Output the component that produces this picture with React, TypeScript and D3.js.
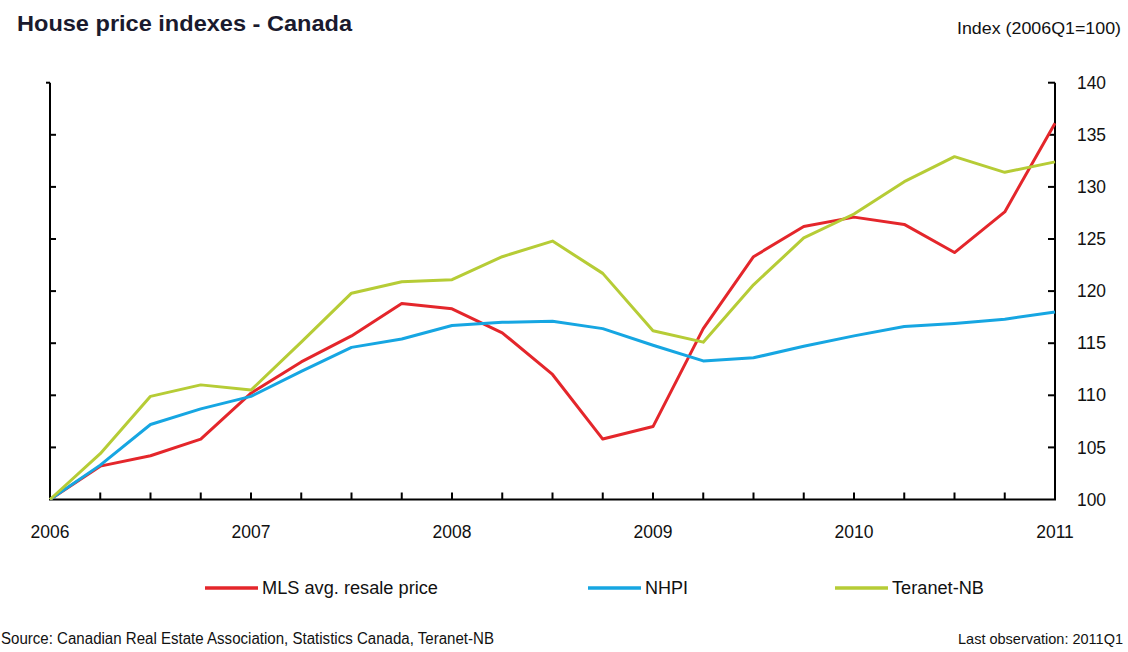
import React from 'react';
import * as d3 from 'd3';

// quarterly, 2006Q1 .. 2011Q1
const quarters = d3.range(0, 21);
const yearLabels = ['2006', '2007', '2008', '2009', '2010', '2011'];
const yTicks = [100, 105, 110, 115, 120, 125, 130, 135, 140];

const mls = [100, 103.2, 104.2, 105.8, 110.2, 113.2, 115.7, 118.8, 118.3, 116.0, 112.0,
    105.8, 107.0, 116.4, 123.3, 126.2, 127.1, 126.4, 123.7, 127.6, 136.1];
const nhpi = [100, 103.3, 107.2, 108.7, 109.9, 112.3, 114.6, 115.4, 116.7, 117.0, 117.1,
    116.4, 114.8, 113.3, 113.6, 114.7, 115.7, 116.6, 116.9, 117.3, 118.0];
const teranet = [100, 104.4, 109.9, 111.0, 110.5, 115.1, 119.8, 120.9, 121.1, 123.3, 124.8,
    121.7, 116.2, 115.1, 120.6, 125.1, 127.4, 130.5, 132.9, 131.4, 132.4];

const seriesNames = ['MLS avg. resale price', 'NHPI', 'Teranet-NB'];
const seriesColors = ['#e4262b', '#16a6e2', '#b6cc36'];
const seriesData = [mls, nhpi, teranet];

const font = '"Liberation Sans", Arial, sans-serif';

export default function App() {
    const width = 1128, height = 652;
    const left = 50, right = 1055, top = 82.7, bottom = 499.5;

    const x = d3.scaleLinear().domain([0, 20]).range([left, right]);
    const y = d3.scaleLinear().domain([100, 140]).range([bottom, top]);

    const line = d3.line<number>()
        .x((d, i) => x(i))
        .y(d => y(d));

    const legendX = [205, 588, 835];
    const legendTextLen = [176, 43, 92];

    return (
        <svg width={width} height={height}
            style={{position: 'absolute', left: 0, top: 0, background: '#fff'}}
            fontFamily={font}>
            <text x={17} y={31} fontSize={22.5} fontWeight="bold" fill="#1a1a2e"
                textLength={335} lengthAdjust="spacingAndGlyphs">House price indexes - Canada</text>
            <text x={1121} y={34} fontSize={17} textAnchor="end" fill="#111"
                textLength={164} lengthAdjust="spacingAndGlyphs">Index (2006Q1=100)</text>

            {/* axes */}
            <g stroke="#000" strokeWidth={2} fill="none">
                <path d={`M${left},${top}V${bottom}H${right}V${top}`} />
                <path d={`M${left},${top}h-4`} />
                <path d={`M${right},${top}h-7`} />
                {yTicks.slice(1, -1).map(t => (
                    <g key={t}>
                        <line x1={left} x2={left + 6} y1={y(t)} y2={y(t)} />
                        <line x1={right} x2={right - 7} y1={y(t)} y2={y(t)} />
                    </g>
                ))}
                {quarters.slice(1, -1).map(q => (
                    <line key={q} x1={x(q)} x2={x(q)} y1={bottom} y2={bottom - 7} />
                ))}
            </g>

            {yTicks.map(t => (
                <text key={t} x={1077} y={y(t)} dy="0.35em" fontSize={17.5} fill="#111"
                    textLength={29} lengthAdjust="spacingAndGlyphs">{t}</text>
            ))}
            {yearLabels.map((lab, i) => (
                <text key={lab} x={x(i * 4)} y={538} fontSize={17.5} textAnchor="middle" fill="#111">{lab}</text>
            ))}

            {seriesData.map((s, i) => (
                <path key={seriesNames[i]} d={line(s) || ''} fill="none"
                    stroke={seriesColors[i]} strokeWidth={3} strokeLinejoin="round" />
            ))}

            {/* legend */}
            {seriesNames.map((name, i) => (
                <g key={name} transform={`translate(${legendX[i]},588)`}>
                    <line x1={0} x2={53} y1={0} y2={0} stroke={seriesColors[i]} strokeWidth={3.5} />
                    <text x={57} y={6} fontSize={17.5} fill="#111"
                        textLength={legendTextLen[i]} lengthAdjust="spacingAndGlyphs">{name}</text>
                </g>
            ))}

            <text x={1} y={644} fontSize={16} fill="#111"
                textLength={493} lengthAdjust="spacingAndGlyphs">Source: Canadian Real Estate Association, Statistics Canada, Teranet-NB</text>
            <text x={1123} y={644} fontSize={14.5} textAnchor="end" fill="#111">Last observation: 2011Q1</text>
        </svg>
    );
}
